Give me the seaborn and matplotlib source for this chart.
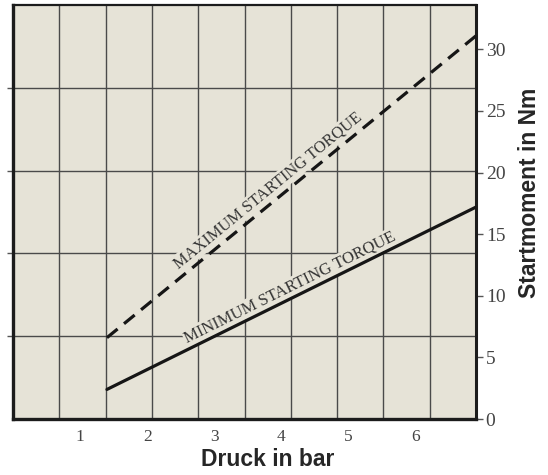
import numpy as np
import pandas as pd
import matplotlib
matplotlib.use("Agg")
import matplotlib.pyplot as plt
import seaborn as sns

# ---- data ----
pressure_bar = [1.4, 6.9]
max_torque_nm = [6.6, 31.1]
min_torque_nm = [2.4, 17.2]
x_tick_values = [0, 1, 2, 3, 4, 5, 6, 6.9]
x_tick_labels = ["", "1", "2", "3", "4", "5", "6", ""]
y_tick_values = [0, 5, 10, 15, 20, 25, 30]
label_max = "MAXIMUM STARTING TORQUE"
label_min = "MINIMUM STARTING TORQUE"
x_title = "Druck in bar"
y_title = "Startmoment in Nm"

XMAX, YMAX = 6.9, 33.6
BG = "#E6E3D7"

df = pd.DataFrame({
    "Druck": pressure_bar * 2,
    "Moment": max_torque_nm + min_torque_nm,
    "Kurve": ["max"] * len(pressure_bar) + ["min"] * len(pressure_bar),
})

sns.set_style("white")
fig = plt.figure(figsize=(5.48, 4.75), dpi=100)
ax = fig.add_axes([13 / 548, 1 - 419 / 475, 463 / 548, 414 / 475])
ax.set_facecolor(BG)

sns.lineplot(data=df[df.Kurve == "max"], x="Druck", y="Moment", ax=ax,
             color="#161616", lw=2.3, zorder=4, linestyle=(0, (4.3, 2.6)))
sns.lineplot(data=df[df.Kurve == "min"], x="Druck", y="Moment", ax=ax,
             color="#161616", lw=2.3, zorder=4)

ax.set_xlim(0, XMAX)
ax.set_ylim(0, YMAX)

# grid: 10 columns x 5 rows independent of tick labels
ax.set_xticks(np.linspace(0, XMAX, 11)[1:-1], minor=True)
ax.set_yticks(np.linspace(0, YMAX, 6)[1:-1], minor=True)
ax.grid(which="minor", color="#4a4a4a", lw=1.0)
ax.grid(which="major", visible=False)
ax.set_axisbelow(True)

ax.set_xticks(x_tick_values)
ax.set_xticklabels(x_tick_labels)
ax.set_yticks(y_tick_values)

serif = "Liberation Serif"
ax.tick_params(axis="x", which="major", direction="out", length=5, width=1,
               color="#555555", labelsize=12.5, labelcolor="#444444", pad=2)
ax.tick_params(axis="x", which="minor", length=0)
ax.tick_params(axis="y", which="major", left=False, labelleft=False,
               right=True, labelright=True, direction="out", length=5,
               width=1, color="#555555", labelsize=14, labelcolor="#444444", pad=2)
ax.tick_params(axis="y", which="minor", left=True, right=False, direction="out",
               length=4, width=1, color="#555555")
for lab in ax.get_xticklabels() + ax.get_yticklabels():
    lab.set_fontfamily(serif)

for side, w in [("left", 2.4), ("bottom", 2.4), ("right", 2.2), ("top", 1.6)]:
    ax.spines[side].set_visible(True)
    ax.spines[side].set_linewidth(w)
    ax.spines[side].set_color("#1c1c1c")

ax.set_xlabel(x_title, fontsize=16.5, fontweight="bold", family="Liberation Sans")
ax.set_ylabel(y_title, fontsize=16.5, fontweight="bold", family="Liberation Sans")
ax.yaxis.set_label_position("right")
ax.xaxis.set_label_coords(0.551, -0.07)
ax.yaxis.set_label_coords(1.09, 0.547)

def slope(xs, ys):
    return (ys[1] - ys[0]) / (xs[1] - xs[0])

def along(xs, ys, x):
    return ys[0] + slope(xs, ys) * (x - xs[0])

box = dict(facecolor=BG, edgecolor="none", pad=1.0)
for text, ys, xc, dy, fs in [(label_max, max_torque_nm, 3.80, 1.25, 11.8),
                             (label_min, min_torque_nm, 4.13, 0.95, 12.0)]:
    ang = np.degrees(np.arctan(slope(pressure_bar, ys)))
    ax.text(xc, along(pressure_bar, ys, xc) + dy, text, rotation=ang,
            transform_rotates_text=True, rotation_mode="anchor",
            ha="center", va="center", fontsize=fs, family=serif,
            color="#333333", bbox=box, zorder=3)

ax.set_title("")
fig.savefig("out.png", dpi=100, facecolor="white")
